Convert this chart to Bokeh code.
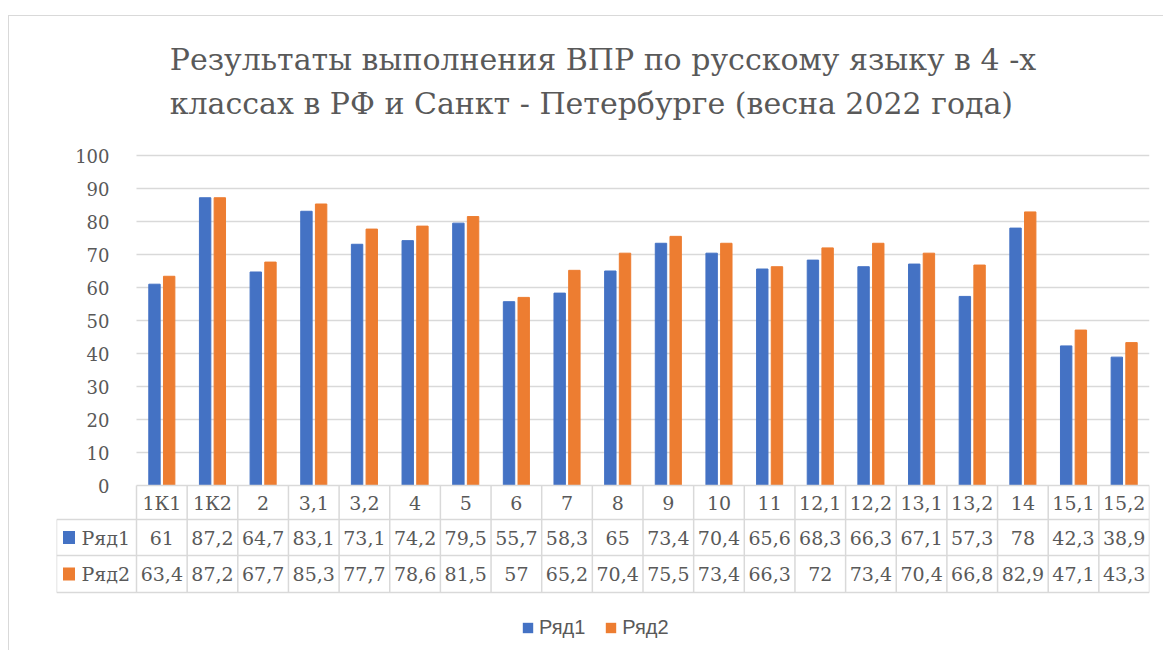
import numpy as np
from bokeh.plotting import figure
from bokeh.models import Range1d, FixedTicker, ColumnDataSource, Legend, LegendItem
from bokeh.transform import dodge
from bokeh.embed import file_html
from bokeh.resources import INLINE
from bokeh.core.properties import value

# ---------------- data ----------------
title_text = ("Результаты выполнения ВПР по русскому языку в 4 -х\n"
              "классах в РФ и Санкт - Петербурге (весна 2022 года)")
categories = ["1К1", "1К2", "2", "3,1", "3,2", "4", "5", "6", "7", "8", "9", "10",
              "11", "12,1", "12,2", "13,1", "13,2", "14", "15,1", "15,2"]
series_names = ["Ряд1", "Ряд2"]
ryad1 = [61, 87.2, 64.7, 83.1, 73.1, 74.2, 79.5, 55.7, 58.3, 65, 73.4, 70.4,
         65.6, 68.3, 66.3, 67.1, 57.3, 78, 42.3, 38.9]
ryad2 = [63.4, 87.2, 67.7, 85.3, 77.7, 78.6, 81.5, 57, 65.2, 70.4, 75.5, 73.4,
         66.3, 72, 73.4, 70.4, 66.8, 82.9, 47.1, 43.3]
y_ticks = list(range(0, 101, 10))

# ---------------- styles / layout constants (page pixels) ----------------
BLUE = "#4472C4"
ORANGE = "#ED7D31"
TEXT = "#595959"
GRID = "#d9d9d9"
SERIF = "DejaVu Serif"
SANS = "Liberation Sans"

OX, OY = 8, 15        # top-left corner of the chart area (its light border)
RIGHT, BOTTOM = 1163, 650
FRAME_L = 55          # left edge of the data table
PLOT_L = 135          # left edge of the bar area
PLOT_R = 1148
Y100_PX = 154         # screen y of the 100 gridline
FRAME_T = 140
PXU = 3.3             # pixels per value unit (y)
HDR_PX = PLOT_L - FRAME_L
ROW_EDGES_PX = [0, 34, 70, 107]   # table row borders below the zero line

W, H = RIGHT - OX, BOTTOM - OY
N = len(categories)
col_px = (PLOT_R - PLOT_L) / N
HDR = HDR_PX / col_px
y_top = 100 + (Y100_PX - FRAME_T) / PXU
y_bottom = y_top - (BOTTOM - FRAME_T) / PXU
row_edges = [-e / PXU for e in ROW_EDGES_PX]
row_mid = [(row_edges[i] + row_edges[i + 1]) / 2 for i in range(3)]

def fmt(v):
    return f"{v:g}".replace(".", ",")

p = figure(width=W, height=H, x_range=Range1d(-HDR, N), y_range=Range1d(y_bottom, y_top),
           x_axis_location=None, output_backend="svg", toolbar_location=None,
           min_border_left=FRAME_L - OX, min_border_right=RIGHT - PLOT_R,
           min_border_top=FRAME_T - OY, min_border_bottom=0)
p.margin = (OY, 0, 0, OX)
p.styles = {"border-top": "1px solid #d9d9d9", "border-left": "1px solid #d9d9d9"}
p.outline_line_color = None
p.background_fill_color = "white"
p.border_fill_color = "white"

# title
p.title.text = title_text
p.title.align = "center"
p.title.text_font = SERIF
p.title.text_font_size = "30px"
p.title.text_font_style = "normal"
p.title.text_color = TEXT
p.title.text_line_height = 1.26
p.title.standoff = 41

# y axis at the left edge of the bar area
p.yaxis.fixed_location = 0
p.yaxis.ticker = FixedTicker(ticks=y_ticks)
p.yaxis.axis_line_color = None
p.yaxis.major_tick_line_color = None
p.yaxis.minor_tick_line_color = None
p.yaxis.major_label_standoff = 21
p.yaxis.major_label_text_font = SERIF
p.yaxis.major_label_text_font_size = "18px"
p.yaxis.major_label_text_color = TEXT

p.xgrid.grid_line_color = None
p.ygrid.ticker = FixedTicker(ticks=y_ticks[1:])
p.ygrid.grid_line_color = GRID
p.ygrid.grid_line_width = 1.5
try:
    p.ygrid.cross_bounds = (0, N)
except Exception:
    p.ygrid.grid_line_color = None
    p.segment(x0=0, x1=N, y0=y_ticks[1:], y1=y_ticks[1:], line_color=GRID, line_width=1.5)

# bars
src = ColumnDataSource(dict(cat=categories, pos=[i + 0.5 for i in range(N)], r1=ryad1, r2=ryad2))
p.vbar(x=dodge("pos", -0.145), top="r1", width=0.225, source=src,
       fill_color=BLUE, line_color=BLUE)
p.vbar(x=dodge("pos", 0.145), top="r2", width=0.225, source=src,
       fill_color=ORANGE, line_color=ORANGE)

# data table lines
hx0 = [0, -HDR, -HDR, -HDR]
hx1 = [N] * 4
vx = [-HDR] + list(range(N + 1))
vy0 = [row_edges[1]] + [row_edges[0]] * (N + 1)
vy1 = [row_edges[3]] * (N + 2)
p.segment(x0=hx0, y0=row_edges, x1=hx1, y1=row_edges, line_color=GRID, line_width=1.5)
p.segment(x0=vx, y0=vy0, x1=vx, y1=vy1, line_color=GRID, line_width=1.5)

# data table texts
tsrc = ColumnDataSource(dict(pos=src.data["pos"], cat=categories,
                             t1=[fmt(v) for v in ryad1], t2=[fmt(v) for v in ryad2]))
for col, ymid in zip(["cat", "t1", "t2"], row_mid):
    p.text(x="pos", y=ymid, text=col, source=tsrc, text_font=value(SERIF),
           text_font_size=value("19px"), text_color=TEXT, text_align="center",
           text_baseline="middle")

# header column: series keys + names
sq_x = -HDR + 12.5 / col_px
sq1 = p.rect(x=[sq_x], y=[row_mid[1]], width=12, height=13, width_units="screen",
             height_units="screen", fill_color=BLUE, line_color=None)
sq2 = p.rect(x=[sq_x], y=[row_mid[2]], width=12, height=13, width_units="screen",
             height_units="screen", fill_color=ORANGE, line_color=None)
p.text(x=[-HDR + 25 / col_px] * 2, y=row_mid[1:], text=series_names, text_font=value(SERIF),
       text_font_size=value("19px"), text_color=TEXT, text_align="left",
       text_baseline="middle")

legend = Legend(items=[LegendItem(label=series_names[0], renderers=[sq1]),
                       LegendItem(label=series_names[1], renderers=[sq2])],
                orientation="horizontal", location=(465, 12))
legend.label_text_font = SANS
legend.label_text_font_size = "20px"
legend.label_text_color = TEXT
legend.glyph_width = 13
legend.glyph_height = 13
legend.spacing = 19
legend.label_standoff = 5
legend.padding = 0
legend.margin = 0
legend.border_line_color = None
legend.background_fill_alpha = 0
p.add_layout(legend)

open("out.html", "w").write(file_html(p, INLINE))
